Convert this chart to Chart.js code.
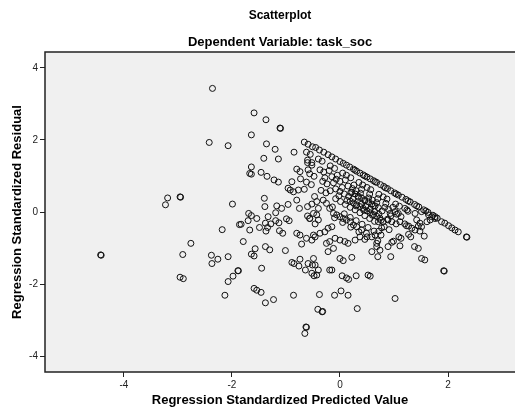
<!DOCTYPE html>
<html>
<head>
<meta charset="utf-8">
<script src="https://cdn.jsdelivr.net/npm/chart.js@4/dist/chart.umd.min.js"></script>
<style>
  html, body { margin: 0; padding: 0; background: #fff; }
  canvas { display: block; }
</style>
</head>
<body>
<canvas id="scatter" width="515" height="412"></canvas>
<script>
// --- Chart text ---
const chartTitle = 'Scatterplot';
const chartSubtitle = 'Dependent Variable: task_soc';
const xTitle = 'Regression Standardized Predicted Value';
const yTitle = 'Regression Standardized Residual';

// --- Axis ticks / ranges ---
const xTicks = [-4, -2, 0, 2];
const yTicks = [-4, -2, 0, 2, 4];
const xRange = [-5.46, 3.24];
const yRange = [-4.44, 4.44];

// --- Points: [predicted, residual] ---
const farPoints = [
    [-2.36, 3.43], [-2.42, 1.93], [-2.07, 1.84], [-3.19, 0.39], [-3.23, 0.20], [-2.96, 0.42],
    [-2.95, 0.41], [-1.99, 0.22], [-1.86, -0.35], [-2.18, -0.49], [-2.76, -0.87], [-4.43, -1.19],
    [-4.42, -1.20], [-2.91, -1.18], [-2.38, -1.20], [-2.26, -1.31], [-2.37, -1.43], [-2.07, -1.24],
    [-1.89, -1.63], [-1.98, -1.78], [-2.07, -1.93], [-2.13, -2.31], [-2.96, -1.81], [-2.90, -1.85]
];

const leftPoints = [
    [-1.59, 2.75], [-1.37, 2.56], [-1.11, 2.33], [-1.10, 2.32], [-1.64, 2.14], [-1.36, 1.89],
    [-1.20, 1.74], [-0.85, 1.66], [-1.41, 1.49], [-1.14, 1.47], [-1.64, 1.25], [-1.67, 1.07],
    [-1.64, 1.05], [-1.46, 1.10], [-1.35, 0.99], [-1.22, 0.89], [-1.14, 0.83],
    [-0.60, 1.44], [-0.52, 1.37], [-0.80, 1.19], [-0.74, 1.12], [-0.59, 1.17], [-0.89, 0.84],
    [-0.73, 0.92], [-0.62, 0.83], [-0.96, 0.66], [-0.92, 0.61], [-0.86, 0.56], [-0.77, 0.61],
    [-0.66, 0.63], [-1.40, 0.38], [-1.39, 0.15], [-1.17, 0.17], [-1.08, 0.10], [-0.96, 0.21],
    [-0.80, 0.33], [-0.75, 0.10], [-0.60, 0.15],
    [-1.69, -0.04], [-1.64, -0.10], [-1.54, -0.18], [-1.33, -0.13], [-1.19, -0.02], [-1.70, -0.24],
    [-1.83, -0.34], [-1.67, -0.50], [-1.49, -0.43], [-1.38, -0.31], [-1.34, -0.43], [-1.37, -0.53],
    [-1.28, -0.33], [-1.19, -0.24], [-1.13, -0.30], [-0.99, -0.19], [-0.94, -0.24], [-1.12, -0.52],
    [-1.06, -0.59], [-0.60, -0.11], [-0.56, -0.18], [-0.80, -0.59], [-0.74, -0.64], [-0.71, -0.89],
    [-0.62, -0.73], [-0.52, -0.78],
    [-1.79, -0.82], [-1.57, -1.02], [-1.64, -1.17], [-1.59, -1.22], [-1.38, -0.96], [-1.30, -1.05],
    [-1.01, -1.07], [-1.45, -1.56], [-1.88, -1.63], [-0.89, -1.40], [-0.85, -1.43], [-0.74, -1.31],
    [-0.76, -1.50], [-0.64, -1.61], [-0.59, -1.43], [-0.51, -1.47], [-0.52, -1.70],
    [-1.59, -2.12], [-1.54, -2.17], [-1.46, -2.23], [-1.38, -2.52], [-1.23, -2.43], [-0.86, -2.31],
    [-0.63, -3.19], [-0.62, -3.20], [-0.65, -3.37]
];

const lowPoints = [
    [-0.38, -2.29], [-0.10, -2.31], [0.02, -2.19], [0.15, -2.31], [1.02, -2.40], [-0.41, -2.70],
    [-0.33, -2.77], [-0.32, -2.76], [0.32, -2.68], [-0.48, -1.77], [-0.40, -1.61], [-0.15, -1.61],
    [0.04, -1.77], [0.12, -1.83], [0.16, -1.87], [0.30, -1.77], [0.52, -1.75], [0.56, -1.78],
    [-0.49, -1.29], [0.00, -1.29], [0.06, -1.35], [0.22, -1.26], [-0.46, -1.47], [-0.43, -1.75],
    [-0.19, -1.61], [-0.22, -1.10], [-0.12, -1.01], [-0.25, -0.87], [-0.19, -0.82], [-0.09, -0.73],
    [0.00, -0.78], [0.09, -0.82], [0.15, -0.87], [0.28, -0.78], [0.37, -0.69], [0.46, -0.76],
    [0.59, -1.10], [0.68, -0.96],
    [-0.49, -0.64], [-0.46, -0.69], [-0.37, -0.59], [-0.28, -0.55], [-0.22, -0.45], [-0.15, -0.41]
];

const rightPoints = [
    [0.77, -0.44], [0.72, -0.53], [1.23, -0.38], [1.33, -0.45], [1.39, -0.50], [1.48, -0.53],
    [1.56, -0.67], [1.51, -0.41], [1.27, -0.62], [1.31, -0.69], [0.70, -0.80], [0.74, -1.06],
    [0.70, -1.24], [0.99, -0.81], [0.96, -0.84], [1.09, -0.69], [1.13, -0.73], [0.89, -0.96],
    [1.11, -0.94], [0.94, -1.24], [1.38, -0.96], [1.45, -1.01], [1.51, -1.29], [1.57, -1.33],
    [1.93, -1.64], [1.92, -1.63],
    [1.88, -0.27], [1.94, -0.31], [2.01, -0.38], [2.07, -0.44], [2.13, -0.50], [2.19, -0.55],
    [2.35, -0.70], [2.34, -0.69],
    [1.20, 0.10], [1.24, 0.06], [1.39, -0.04], [1.51, 0.01], [1.64, -0.08], [1.70, -0.13],
    [1.76, -0.18], [1.11, -0.27], [1.20, -0.33], [1.27, -0.39], [1.42, -0.22], [1.48, -0.31],
    [1.61, -0.27], [1.67, -0.22], [1.45, -0.39], [1.02, 0.01], [1.08, -0.04], [0.93, -0.04],
    [0.89, -0.22], [0.80, -0.27], [0.71, -0.27]
];

const middlePoints = [
    [-0.52, 0.22], [-0.43, 0.29], [-0.31, 0.33], [-0.49, -0.04], [-0.43, -0.08], [-0.56, -0.18],
    [-0.40, -0.22], [-0.46, -0.33],
    [-0.19, 0.10], [-0.12, -0.04], [-0.06, -0.08], [0.00, -0.13], [0.06, -0.18], [0.12, -0.22],
    [0.19, -0.27], [0.25, -0.36], [0.31, -0.41], [0.40, -0.50], [0.49, -0.59], [0.59, -0.69],
    [0.65, -0.64], [0.68, -0.87],
    [0.19, 0.30], [0.25, 0.25], [0.31, 0.20], [0.37, 0.15], [0.43, 0.10], [0.50, 0.03],
    [0.56, -0.02], [0.62, -0.07], [0.68, -0.12], [0.74, -0.17],
    [0.22, 0.55], [0.28, 0.50], [0.34, 0.44], [0.40, 0.39], [0.46, 0.34], [0.53, 0.28],
    [0.59, 0.22], [0.65, 0.17], [0.71, 0.12]
];

// the diagonal ridge (highest score) and the rows under it
const ridgePoints = [
    [-0.66, 1.94], [-0.59, 1.88], [-0.51, 1.81], [-0.45, 1.79], [-0.38, 1.72], [-0.30, 1.66],
    [-0.22, 1.59], [-0.15, 1.53], [-0.08, 1.47], [0.00, 1.40], [0.06, 1.35], [0.12, 1.30],
    [0.18, 1.25], [0.25, 1.19], [0.31, 1.13], [0.37, 1.08], [0.43, 1.03], [0.50, 0.97],
    [0.56, 0.92], [0.62, 0.87], [0.68, 0.82], [0.75, 0.76], [0.81, 0.71], [0.88, 0.65],
    [0.94, 0.59], [1.01, 0.53], [1.08, 0.47], [1.15, 0.41], [1.22, 0.35], [1.30, 0.28],
    [1.38, 0.21], [1.46, 0.14], [1.55, 0.06], [1.63, -0.01], [1.72, -0.09], [1.80, -0.17],
    [0.28, 1.16], [0.46, 1.00], [0.65, 0.84], [0.84, 0.67], [1.04, 0.50], [1.26, 0.31],
    [1.42, 0.17], [1.59, 0.03], [1.76, -0.13]
];

const rowPoints = [
    // row 1
    [-0.62, 1.66], [-0.55, 1.60], [-0.40, 1.47], [-0.33, 1.41], [-0.18, 1.28], [-0.10, 1.21],
    [0.05, 1.08], [0.12, 1.02], [0.20, 0.95], [0.35, 0.82], [0.42, 0.75], [0.50, 0.68],
    [0.57, 0.62], [0.72, 0.49], [0.80, 0.42], [0.87, 0.36], [1.03, 0.22], [1.10, 0.16],
    [1.26, 0.02],
    // between rows 1 and 2
    [-0.20, 1.15], [-0.05, 1.02], [0.10, 0.89], [0.26, 0.75], [0.40, 0.63], [0.55, 0.50],
    [0.70, 0.37], [0.85, 0.24], [0.98, 0.13],
    // row 2
    [-0.60, 1.37], [-0.52, 1.30], [-0.37, 1.17], [-0.30, 1.11], [-0.15, 0.98], [-0.07, 0.91],
    [0.00, 0.85], [0.15, 0.72], [0.23, 0.65], [0.30, 0.59], [0.38, 0.52], [0.53, 0.39],
    [0.60, 0.33], [0.68, 0.26], [0.83, 0.13], [0.90, 0.07], [1.05, -0.06], [1.13, -0.13],
    // between rows 2 and 3
    [-0.28, 0.95], [-0.12, 0.81], [0.04, 0.68], [0.20, 0.54], [0.34, 0.41], [0.46, 0.31],
    [0.62, 0.17], [0.78, 0.03], [0.94, -0.11],
    // row 3
    [-0.56, 1.06], [-0.48, 0.99], [-0.32, 0.85], [-0.24, 0.78], [-0.08, 0.64], [0.00, 0.57],
    [0.08, 0.50], [0.16, 0.43], [0.24, 0.36], [0.40, 0.22], [0.48, 0.15], [0.56, 0.08],
    [0.64, 0.01], [0.72, -0.06], [0.88, -0.20], [0.96, -0.27], [1.04, -0.33],
    // between rows 3 and 4
    [-0.18, 0.59], [-0.02, 0.45], [0.13, 0.32], [0.30, 0.17], [0.44, 0.05], [0.60, -0.09],
    [0.76, -0.23],
    // row 4
    [-0.53, 0.76], [-0.35, 0.60], [-0.26, 0.53], [-0.08, 0.37], [0.01, 0.29], [0.10, 0.21],
    [0.19, 0.13], [0.28, 0.06], [0.37, -0.02], [0.46, -0.10], [0.55, -0.18], [0.64, -0.26],
    [0.82, -0.41], [0.91, -0.49],
    // row 5
    [-0.47, 0.43], [-0.25, 0.24], [-0.14, 0.14], [0.08, -0.05], [0.19, -0.15], [0.30, -0.24],
    [0.41, -0.34], [0.52, -0.43], [0.63, -0.53], [0.76, -0.64],
    // row 6
    [-0.40, 0.10], [-0.10, -0.16], [0.05, -0.29], [0.20, -0.42], [0.35, -0.55], [0.50, -0.69]
];

const fontFamily = '"Liberation Sans", Arial, sans-serif';

const allPoints = [].concat(farPoints, leftPoints, lowPoints, rightPoints, middlePoints, ridgePoints, rowPoints);

// grey plot area, frame (no right side, it runs off the picture) and the two title lines
const plotFrame = {
    id: 'plotFrame',
    beforeDraw(chart) {
        const {ctx, chartArea: a} = chart;
        ctx.save();
        ctx.fillStyle = '#ffffff';
        ctx.fillRect(0, 0, chart.width, chart.height);
        ctx.fillStyle = '#f0f0f0';
        ctx.fillRect(a.left, a.top, a.right - a.left, a.bottom - a.top);
        ctx.restore();
    },
    afterDraw(chart) {
        const {ctx, chartArea: a} = chart;
        ctx.save();
        ctx.strokeStyle = '#222';
        ctx.lineWidth = 1.5;
        ctx.beginPath();
        ctx.moveTo(a.right, a.top);
        ctx.lineTo(a.left, a.top);
        ctx.lineTo(a.left, a.bottom);
        ctx.lineTo(a.right, a.bottom);
        ctx.stroke();

        const cx = (a.left + a.right) / 2;
        ctx.fillStyle = '#000';
        ctx.textAlign = 'center';
        ctx.textBaseline = 'middle';
        ctx.font = 'bold 12px ' + fontFamily;
        ctx.fillText(chartTitle, cx, 16);
        ctx.font = 'bold 13px ' + fontFamily;
        ctx.fillText(chartSubtitle, cx, 42);
        ctx.restore();
    }
};

const tickFont = {family: fontFamily, size: 10};
const titleFont = {family: fontFamily, size: 13, weight: 'bold'};

new Chart(document.getElementById('scatter'), {
    type: 'scatter',
    data: {
        datasets: [{
            label: 'task_soc',
            data: allPoints.map(p => ({x: p[0], y: p[1]})),
            pointStyle: 'circle',
            pointRadius: 3,
            pointBorderWidth: 1,
            pointBorderColor: '#111',
            pointBackgroundColor: 'rgba(0,0,0,0)'
        }]
    },
    options: {
        responsive: false,
        animation: false,
        devicePixelRatio: 1,
        events: [],
        layout: {autoPadding: false, padding: {top: 52, left: 0, right: 0, bottom: 0}},
        plugins: {
            legend: {display: false},
            tooltip: {enabled: false}
        },
        scales: {
            x: {
                type: 'linear',
                min: xRange[0],
                max: xRange[1],
                afterBuildTicks: scale => { scale.ticks = xTicks.map(v => ({value: v})); },
                afterFit: scale => { scale.height = 40; },
                grid: {drawOnChartArea: false, tickLength: 5, color: '#222', lineWidth: 1},
                border: {display: false},
                ticks: {font: tickFont, color: '#222', padding: 2, maxRotation: 0},
                title: {display: true, text: xTitle, font: titleFont, color: '#000', padding: {top: 0, bottom: 4}}
            },
            y: {
                type: 'linear',
                min: yRange[0],
                max: yRange[1],
                afterBuildTicks: scale => { scale.ticks = yTicks.map(v => ({value: v})); },
                afterFit: scale => { scale.width = 45; },
                grid: {drawOnChartArea: false, tickLength: 5, color: '#222', lineWidth: 1},
                border: {display: false},
                ticks: {font: tickFont, color: '#222', padding: 2},
                title: {display: true, text: yTitle, font: titleFont, color: '#000', padding: {top: 10, bottom: 0}}
            }
        }
    },
    plugins: [plotFrame]
});
</script>
</body>
</html>
